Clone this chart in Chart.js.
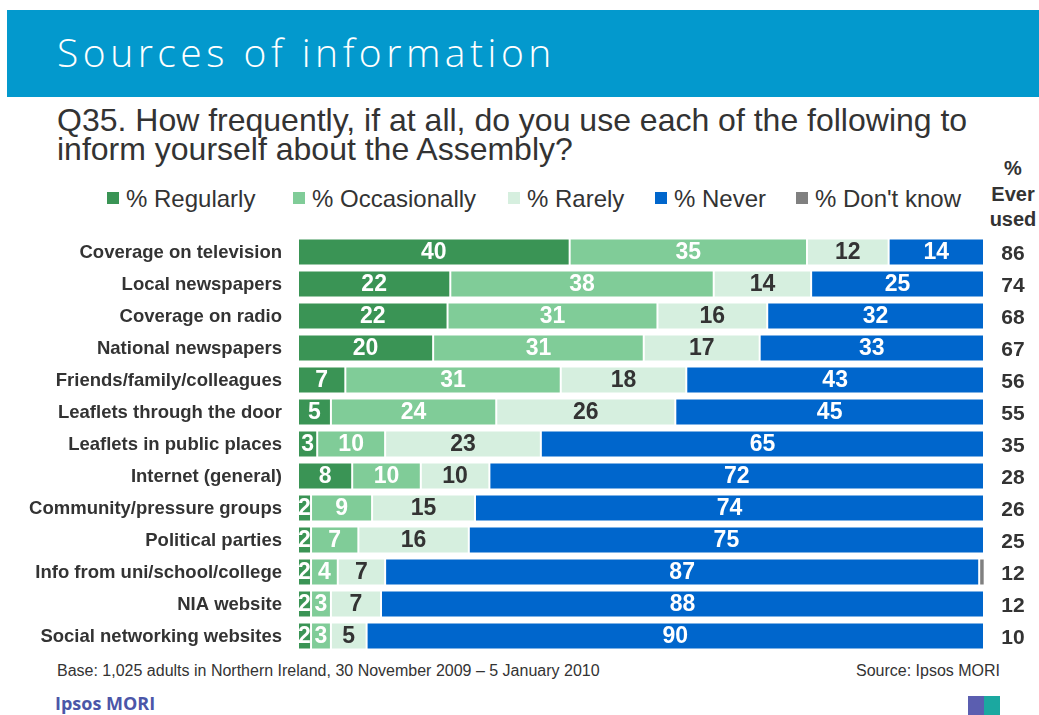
<!DOCTYPE html>
<html>
<head>
<meta charset="utf-8">
<script src="https://cdn.jsdelivr.net/npm/chart.js@4"></script>
<style>
  html, body { margin: 0; padding: 0; background: #fff; }
  body { width: 1039px; height: 715px; position: relative; overflow: hidden; font-family: "Liberation Sans", Arial, sans-serif; color: #333; }
  #band { position: absolute; left: 7px; top: 10px; width: 1032px; height: 87px; background: #0399CD; }
  #title { position: absolute; left: 57px; top: 25px; font-family: "Open Sans", "DejaVu Sans", sans-serif; font-weight: 300; font-size: 39px; color: #fff; letter-spacing: 4.5px; white-space: nowrap; }
  #question { position: absolute; left: 57px; top: 106px; font-size: 32px; line-height: 29px; color: #333; white-space: nowrap; }
  #ever { position: absolute; left: 985px; top: 156px; width: 56px; text-align: center; font-weight: bold; font-size: 20px; line-height: 25.5px; color: #333; }
  #legend { position: absolute; left: 0; top: 185px; height: 30px; font-size: 24px; color: #333; }
  .li { position: absolute; top: 0; white-space: nowrap; }
  .sw { display: inline-block; width: 12px; height: 12px; margin-right: 7px; vertical-align: 3px; }
  #chartbox { position: absolute; left: 0; top: 230px; width: 1039px; height: 430px; }
  #base { position: absolute; left: 57px; top: 662px; font-size: 16px; color: #333; white-space: nowrap; }
  #source { position: absolute; right: 39px; top: 662px; font-size: 16px; color: #333; white-space: nowrap; }
  #brand { position: absolute; left: 55px; top: 691px; font-family: "Open Sans", sans-serif; font-weight: 700; font-size: 18px; color: #4B56A8; white-space: nowrap; }
  #logo { position: absolute; left: 968px; top: 696px; width: 32px; height: 19px; background: linear-gradient(90deg, #5B5EB0 0 50%, #1BA8A0 50% 100%); }
</style>
</head>
<body>
<div id="band"></div>
<div id="title">Sources of information</div>
<div id="question">Q35. How frequently, if at all, do you use each of the following to<br>inform yourself about the Assembly?</div>
<div id="ever">%<br>Ever<br>used</div>
<div id="legend"></div>
<div id="chartbox"><canvas id="c"></canvas></div>
<div id="base">Base: 1,025 adults in Northern Ireland, 30 November 2009 – 5 January 2010</div>
<div id="source">Source: Ipsos MORI</div>
<div id="brand">Ipsos MORI</div>
<div id="logo"></div>
<script>
// ---- Data ----
const categories = [
  "Coverage on television", "Local newspapers", "Coverage on radio", "National newspapers",
  "Friends/family/colleagues", "Leaflets through the door", "Leaflets in public places",
  "Internet (general)", "Community/pressure groups", "Political parties",
  "Info from uni/school/college", "NIA website", "Social networking websites"
];
const seriesNames = ["% Regularly", "% Occasionally", "% Rarely", "% Never", "% Don't know"];
const regularly    = [39.6, 22.2, 21.8, 19.7, 6.9, 4.8, 2.8, 7.9, 1.9, 1.9, 1.9, 1.9, 1.9];
const occasionally = [34.6, 38.4, 30.6, 30.7, 31.4, 24.1, 9.9, 10.0, 8.9, 6.9, 3.9, 2.9, 2.9];
const rarely       = [11.9, 14.2, 16.0, 16.9, 18.3, 26.1, 22.7, 10.0, 15.0, 16.1, 6.9, 7.3, 5.2];
const never        = [13.9, 25.2, 31.6, 32.7, 43.4, 45.0, 64.6, 72.1, 74.2, 75.1, 86.6, 87.9, 90.0];
const dontKnow     = [0, 0, 0, 0, 0, 0, 0, 0, 0, 0, 0.8, 0, 0];
const everUsed     = [86, 74, 68, 67, 56, 55, 35, 28, 26, 25, 12, 12, 10];

const colors = ["#3A9455", "#80CC98", "#D6EFDF", "#0066CC", "#808080"];
const labelColors = ["#fff", "#fff", "#333", "#fff", null];

// Legend (HTML)
const legendX = [107, 293, 508, 655, 796];
const legend = document.getElementById('legend');
seriesNames.forEach((n, i) => {
  const d = document.createElement('div');
  d.className = 'li';
  d.style.left = legendX[i] + 'px';
  d.innerHTML = '<span class="sw" style="background:' + colors[i] + '"></span>' + n;
  legend.appendChild(d);
});

const values = [regularly, occasionally, rarely, never, dontKnow];

const labelPlugin = {
  id: 'segLabels',
  afterDatasetsDraw(chart) {
    const ctx = chart.ctx;
    const ys = chart.scales.y;
    ctx.save();
    ctx.textBaseline = 'middle';
    // Category labels
    ctx.textAlign = 'right';
    ctx.fillStyle = '#333';
    ctx.font = 'bold 18.5px "Liberation Sans", Arial, sans-serif';
    categories.forEach((c, i) => {
      ctx.fillText(c, 282, ys.getPixelForValue(i) + 1);
    });
    // Segment labels
    ctx.textAlign = 'center';
    ctx.font = 'bold 23px "Liberation Sans", Arial, sans-serif';
    chart.data.datasets.forEach((ds, di) => {
      if (!labelColors[di]) return;
      const meta = chart.getDatasetMeta(di);
      meta.data.forEach((el, i) => {
        const v = ds.data[i];
        if (!v) return;
        const cx = (el.x + el.base) / 2;
        ctx.fillStyle = labelColors[di];
        ctx.fillText(String(Math.round(v)), cx, el.y + 1);
      });
    });
    // Ever used column
    ctx.fillStyle = '#333';
    ctx.font = 'bold 21px "Liberation Sans", Arial, sans-serif';
    everUsed.forEach((v, i) => {
      ctx.fillText(String(v), 1013, ys.getPixelForValue(i) + 2);
    });
    ctx.restore();
  }
};

new Chart(document.getElementById('c'), {
  type: 'bar',
  data: {
    labels: categories,
    datasets: values.map((arr, i) => ({
      label: seriesNames[i],
      data: arr,
      backgroundColor: colors[i],
      borderColor: '#ffffff',
      borderWidth: 1,
      borderSkipped: false,
      categoryPercentage: 1,
      barPercentage: 0.84
    }))
  },
  options: {
    indexAxis: 'y',
    responsive: true,
    maintainAspectRatio: false,
    animation: false,
    events: [],
    layout: { padding: { left: 0, right: 55, top: 6, bottom: 8 } },
    plugins: { legend: { display: false }, tooltip: { enabled: false }, title: { display: false } },
    scales: {
      x: { stacked: true, min: 0, max: 100, display: false },
      y: {
        stacked: true,
        grid: { display: false, drawTicks: false },
        border: { display: false },
        ticks: { display: false, padding: 0 },
        afterFit(scale) { scale.width = 298; }
      }
    }
  },
  plugins: [labelPlugin]
});
</script>
</body>
</html>
